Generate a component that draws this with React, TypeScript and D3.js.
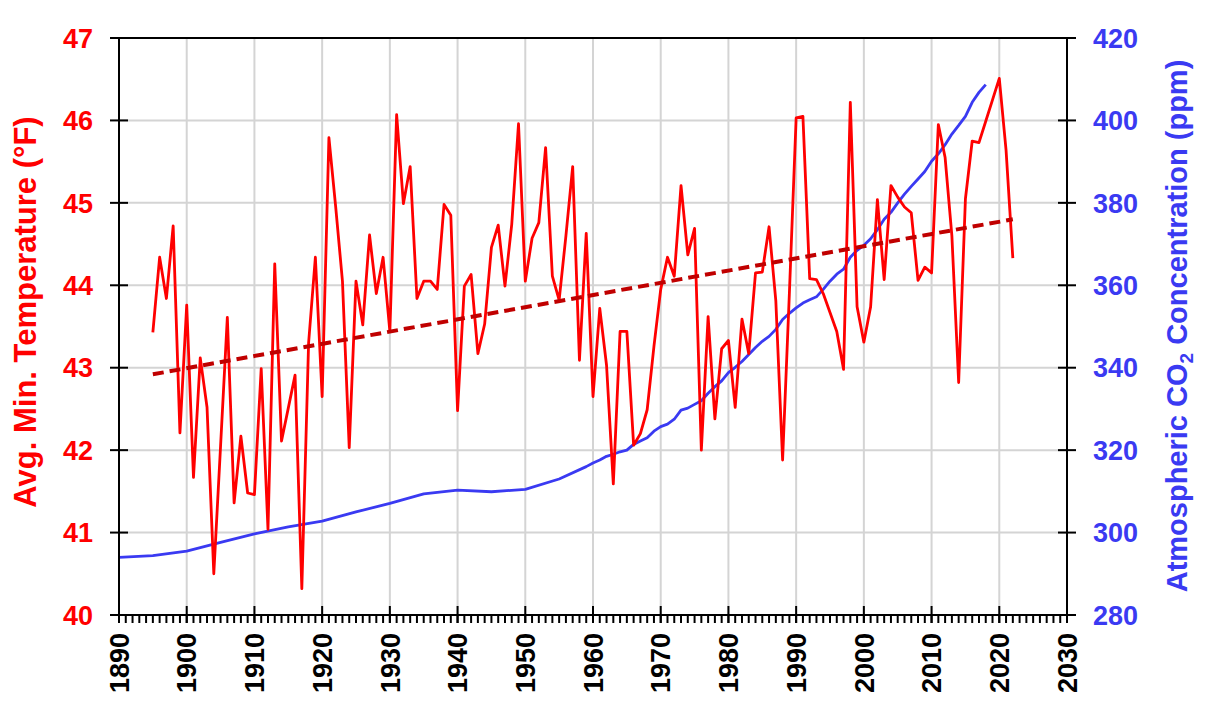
import * as d3 from "d3";

// annual average minimum temperature (°F), 1895-2022
const tempStartYear = 1895;
const tempValues = [
  43.43, 44.34, 43.84, 44.72, 42.21, 43.76, 41.67, 43.12, 42.52, 40.5,
  42.05, 43.61, 41.36, 42.17, 41.48, 41.46, 42.99, 41.04, 44.26, 42.11,
  42.51, 42.91, 40.32, 43.3, 44.34, 42.65, 45.79, 44.95, 44.05, 42.03,
  44.05, 43.52, 44.61, 43.9, 44.34, 43.44, 46.07, 44.99, 45.44, 43.84,
  44.05, 44.05, 43.95, 44.98, 44.85, 42.48, 43.99, 44.13, 43.17, 43.53,
  44.46, 44.73, 43.99, 44.74, 45.96, 44.05, 44.57, 44.76, 45.67, 44.11,
  43.82, 44.6, 45.44, 43.09, 44.63, 42.65, 43.72, 43.03, 41.59, 43.44,
  43.44, 42.06, 42.2, 42.49, 43.26, 43.95, 44.34, 44.11, 45.21, 44.37,
  44.69, 42.0, 43.62, 42.38, 43.23, 43.33, 42.52, 43.59, 43.17, 44.15,
  44.16, 44.71, 43.81, 41.88, 43.9, 46.03, 46.05, 44.08, 44.07, 43.9,
  43.67, 43.44, 42.98, 46.22, 43.74, 43.31, 43.74, 45.04, 44.07, 45.21,
  45.07, 44.95, 44.88, 44.06, 44.22, 44.15, 45.95, 45.55, 44.6, 42.82,
  45.05, 45.75, 45.73, 45.99, 46.25, 46.51, 45.64, 44.33,
];

// linear trend end points [year, °F]
const trendPoints: [number, number][] = [
  [1895, 42.92],
  [2022, 44.8],
];

// atmospheric CO2 (ppm)
const co2Years = [
  1890, 1895, 1900, 1905, 1910, 1915, 1920, 1925, 1930, 1935, 1940, 1945, 1950, 1955,
  1959, 1960, 1961, 1962, 1963, 1964, 1965, 1966, 1967, 1968, 1969,
  1970, 1971, 1972, 1973, 1974, 1975, 1976, 1977, 1978, 1979,
  1980, 1981, 1982, 1983, 1984, 1985, 1986, 1987, 1988, 1989,
  1990, 1991, 1992, 1993, 1994, 1995, 1996, 1997, 1998, 1999,
  2000, 2001, 2002, 2003, 2004, 2005, 2006, 2007, 2008, 2009,
  2010, 2011, 2012, 2013, 2014, 2015, 2016, 2017, 2018,
];
const co2Values = [
  294.0, 294.4, 295.5, 297.6, 299.7, 301.4, 302.8, 305.0, 307.1, 309.4, 310.3, 309.9, 310.5, 313.0,
  316.0, 316.9, 317.6, 318.5, 319.0, 319.6, 320.0, 321.4, 322.2, 323.0, 324.6,
  325.7, 326.3, 327.5, 329.7, 330.2, 331.1, 332.0, 333.8, 335.4, 336.8,
  338.8, 340.1, 341.5, 343.2, 344.9, 346.4, 347.6, 349.3, 351.7, 353.2,
  354.5, 355.7, 356.5, 357.2, 359.0, 361.0, 362.7, 363.9, 366.8, 368.5,
  369.7, 371.3, 373.5, 376.0, 377.7, 380.0, 382.1, 384.0, 385.8, 387.6,
  390.1, 391.9, 394.1, 396.7, 398.8, 401.0, 404.4, 406.8, 408.7,
];

const xTicks = d3.range(1890, 2031, 10);
const xMinorTicks = d3.range(1890, 2031, 1);
const tempTicks = [40, 41, 42, 43, 44, 45, 46, 47];
const co2Ticks = [280, 300, 320, 340, 360, 380, 400, 420];

const width = 1207;
const height = 712;
const marginLeft = 119;
const marginRight = 140;
const marginTop = 38;
const marginBottom = 97;

const font = "'Liberation Sans', Arial, Helvetica, sans-serif";
const red = "#ff0000";
const blue = "#3a3af2";

export default function App() {
  const x = d3.scaleLinear([1890, 2030], [marginLeft, width - marginRight]);
  const yT = d3.scaleLinear([40, 47], [height - marginBottom, marginTop]);
  const yC = d3.scaleLinear([280, 420], [height - marginBottom, marginTop]);

  const temps = tempValues.map((v, i) => [tempStartYear + i, v] as [number, number]);
  const co2 = co2Years.map((yr, i) => [yr, co2Values[i]] as [number, number]);

  const tempLine = d3.line<[number, number]>().x(d => x(d[0])).y(d => yT(d[1]));
  const co2Line = d3.line<[number, number]>().x(d => x(d[0])).y(d => yC(d[1]));

  const left = marginLeft;
  const right = width - marginRight;
  const top = marginTop;
  const bottom = height - marginBottom;

  return (
    <svg
      width={width}
      height={height}
      style={{ position: "absolute", left: 0, top: 0, background: "#fff" }}
      fontFamily={font}
      fontWeight="bold"
    >
      {/* grid */}
      <g stroke="#d4d4d4" strokeWidth={2}>
        {xTicks.slice(1, -1).map(t => (
          <line key={"gx" + t} x1={x(t)} x2={x(t)} y1={top} y2={bottom} />
        ))}
        {tempTicks.slice(1, -1).map(t => (
          <line key={"gy" + t} x1={left} x2={right} y1={yT(t)} y2={yT(t)} />
        ))}
      </g>

      {/* series */}
      <path d={co2Line(co2) ?? ""} fill="none" stroke={blue} strokeWidth={2.8} strokeLinejoin="round" />
      <path d={tempLine(temps) ?? ""} fill="none" stroke={red} strokeWidth={2.8} strokeLinejoin="round" />
      <path
        d={tempLine(trendPoints) ?? ""}
        fill="none"
        stroke="#c00000"
        strokeWidth={4}
        strokeDasharray="11,6"
      />

      {/* frame and axes */}
      <g stroke="#000" strokeWidth={2}>
        <line x1={left} x2={right} y1={top} y2={top} />
        <line x1={left} x2={right} y1={bottom} y2={bottom} />
        <line x1={left} x2={left} y1={top} y2={bottom} />
        <line x1={right} x2={right} y1={top} y2={bottom} />
        {xMinorTicks.map(t => (
          <line key={"mx" + t} x1={x(t)} x2={x(t)} y1={bottom} y2={bottom + 8} />
        ))}
        {xTicks.map(t => (
          <line key={"tx" + t} x1={x(t)} x2={x(t)} y1={bottom - 9} y2={bottom + 8} />
        ))}
        {tempTicks.map(t => (
          <line key={"tl" + t} x1={left - 9} x2={left + 9} y1={yT(t)} y2={yT(t)} />
        ))}
        {co2Ticks.map(t => (
          <line key={"tr" + t} x1={right - 9} x2={right + 9} y1={yC(t)} y2={yC(t)} />
        ))}
      </g>

      {/* tick labels */}
      <g fontSize={27} fill={red} textAnchor="end">
        {tempTicks.map(t => (
          <text key={"ll" + t} x={93} y={yT(t)} dy="0.36em">
            {t}
          </text>
        ))}
      </g>
      <g fontSize={27} fill={blue} textAnchor="start">
        {co2Ticks.map(t => (
          <text key={"rl" + t} x={1093} y={yC(t)} dy="0.36em">
            {t}
          </text>
        ))}
      </g>
      <g fontSize={27} fill="#000" textAnchor="end">
        {xTicks.map(t => (
          <text
            key={"xl" + t}
            transform={`translate(${x(t)},${bottom + 18}) rotate(-90)`}
            dy="0.36em"
          >
            {t}
          </text>
        ))}
      </g>

      {/* axis titles */}
      <text
        transform="translate(36,312) rotate(-90)"
        textAnchor="middle"
        fontSize={31}
        fill={red}
      >
        Avg. Min. Temperature (°F)
      </text>
      <text
        transform="translate(1187,326) rotate(-90)"
        textAnchor="middle"
        fontSize={29}
        fill={blue}
      >
        Atmospheric CO
        <tspan fontSize={19} dy="6">2</tspan>
        <tspan dy="-6"> Concentration (ppm)</tspan>
      </text>
    </svg>
  );
}
